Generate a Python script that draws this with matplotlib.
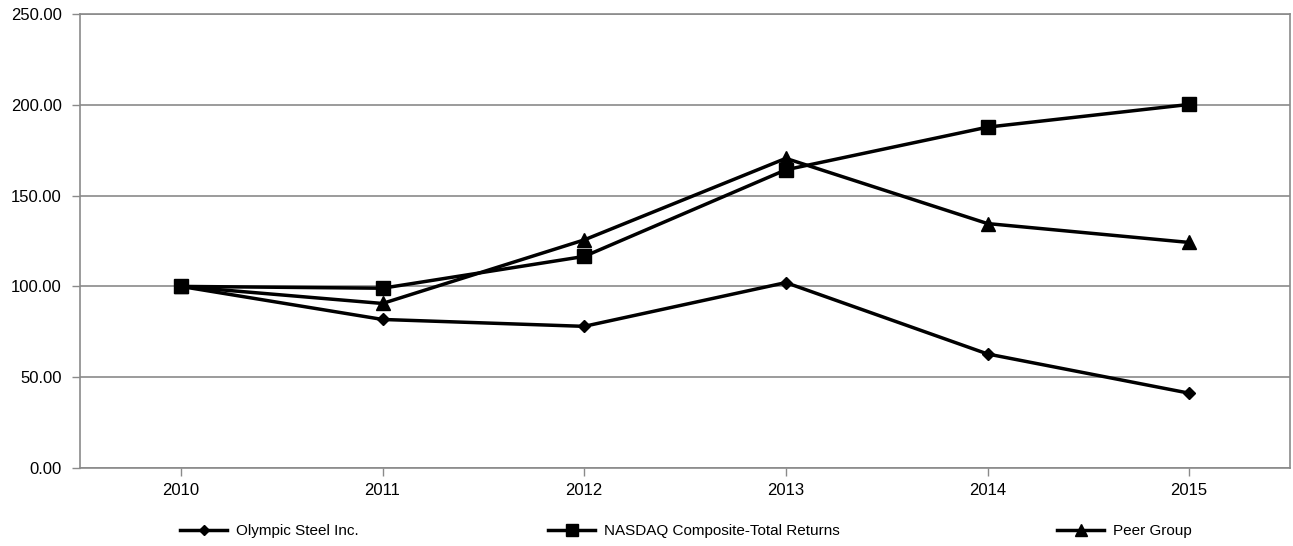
import matplotlib.pyplot as plt
import numpy as np

plt.rcParams['font.family'] = ['Liberation Sans', 'DejaVu Sans']

years = ['2010', '2011', '2012', '2013', '2014', '2015']
olympic = [100.0, 81.8, 78.0, 102.1, 62.8, 41.2]
nasdaq = [100.0, 99.0, 116.5, 164.2, 187.7, 200.2]
peer = [100.0, 90.6, 125.6, 170.5, 134.6, 124.2]
series_names = ['Olympic Steel Inc.', 'NASDAQ Composite-Total Returns', 'Peer Group']

fig = plt.figure(figsize=(12.93, 5.46), dpi=100)
ax = fig.add_axes([80 / 1293, 1 - 468 / 546, 1210 / 1293, 454 / 546])

x = np.arange(len(years)) + 0.5
grey = '#8a8a8a'

l1, = ax.plot(x, olympic, color='black', lw=2.5, marker='D', ms=6.5, label=series_names[0])
l2, = ax.plot(x, nasdaq, color='black', lw=2.5, marker='s', ms=9.5, label=series_names[1], zorder=4)
l3, = ax.plot(x, peer, color='black', lw=2.5, marker='^', ms=10, label=series_names[2])

ax.set_xlim(0, len(years))
ax.set_ylim(0, 250)
ax.set_xticks(x)
ax.set_xticklabels(years)
ax.set_yticks(np.arange(0, 251, 50))
ax.set_yticklabels(['%.2f' % v for v in np.arange(0, 251, 50)])
ax.yaxis.grid(True, color=grey, lw=1.2)
ax.set_axisbelow(True)
for s in ax.spines.values():
    s.set_color(grey)
    s.set_linewidth(1.2)
ax.tick_params(axis='x', direction='out', length=6, color=grey, width=1, pad=4.5, labelsize=12)
ax.tick_params(axis='y', direction='out', length=6, color=grey, width=1, pad=7, labelsize=12)

# one legend entry per series, spread across the bottom
for h, l, xpos in zip([l1, l2, l3], series_names, [180, 548, 1057]):
    fig.legend([h], [l], loc='center left', bbox_to_anchor=(xpos / 1293, 1 - 531 / 546),
               frameon=False, fontsize=11, handlelength=3.1, handletextpad=0.55,
               borderpad=0, borderaxespad=0, markerscale=0.85)

fig.savefig('out.png', dpi=100)
